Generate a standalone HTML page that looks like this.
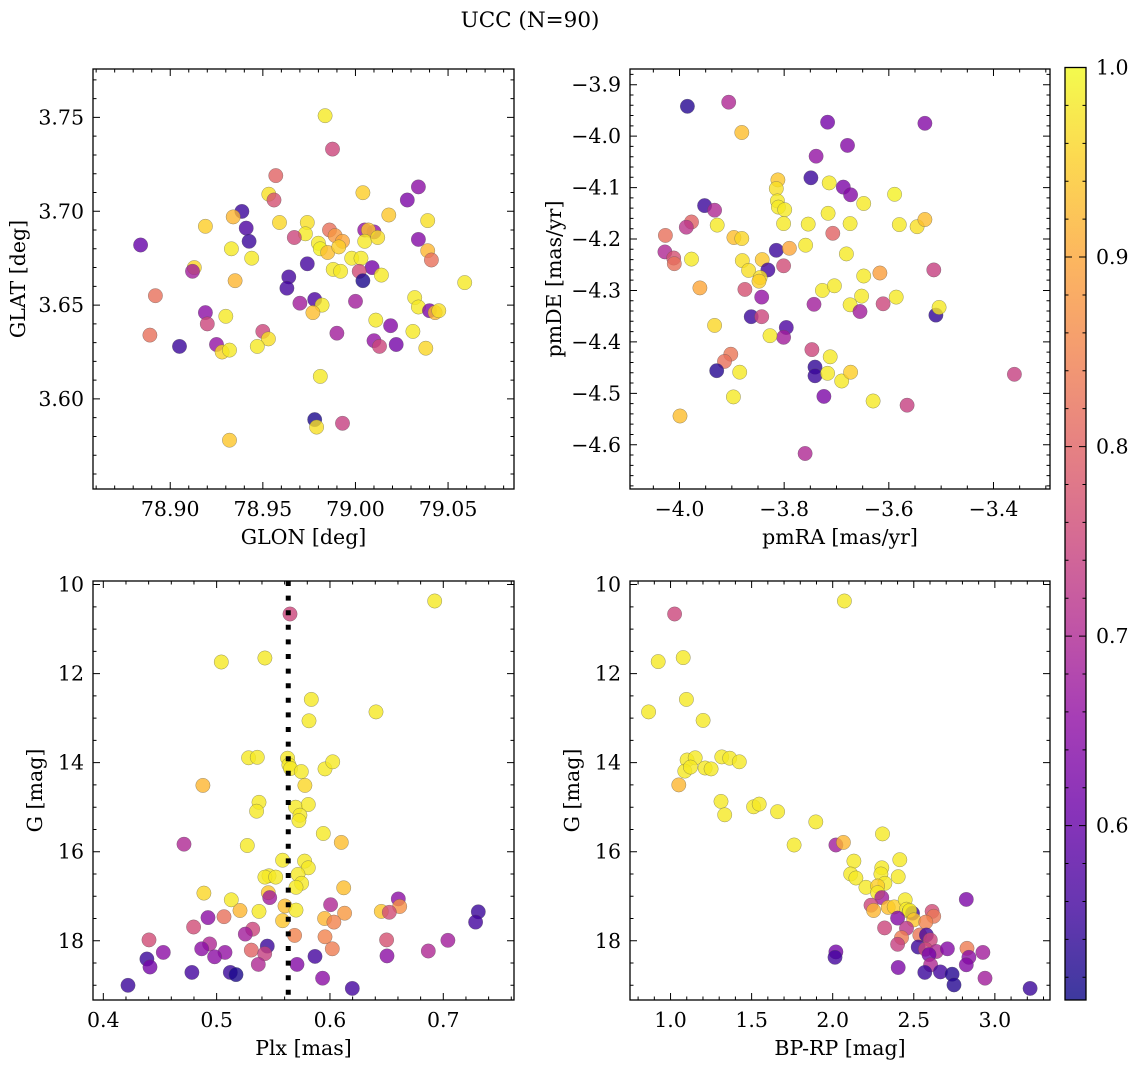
<!DOCTYPE html>
<html><head><meta charset="utf-8"><style>
html,body{margin:0;padding:0;background:#fff;}
svg text{font-family:"DejaVu Serif","Liberation Serif",serif;fill:#000;}
</style></head><body>
<svg id="fig" width="1136" height="1067" viewBox="0 0 1136 1067" xmlns="http://www.w3.org/2000/svg">
<defs>
<linearGradient id="plasma" x1="0" y1="1" x2="0" y2="0">
<stop offset="0" stop-color="#0d0887"/><stop offset="0.1" stop-color="#41049d"/><stop offset="0.2" stop-color="#6a00a8"/><stop offset="0.3" stop-color="#8f0da4"/><stop offset="0.4" stop-color="#b12a90"/><stop offset="0.5" stop-color="#cc4778"/><stop offset="0.6" stop-color="#e16462"/><stop offset="0.7" stop-color="#f2844b"/><stop offset="0.8" stop-color="#fca636"/><stop offset="0.9" stop-color="#fcce25"/><stop offset="1" stop-color="#f0f921"/>
</linearGradient>
</defs>
<text x="530" y="27" font-size="21.5" text-anchor="middle">UCC (N=90)</text>
</svg>
<script>
// ---- Panel 1: GLON vs GLAT ----
const P1_GLON=[78.9836,78.9876,78.957,78.9532,78.956,79.004,79.034,79.028,78.9387,78.934,78.919,78.941,78.959,78.974,78.973,78.967,78.986,78.989,78.993,79.018,79.039,79.034,79.005,79.010,79.007,79.005,79.012,78.9426,78.884,78.933,78.944,78.980,78.981,78.985,78.991,78.998,79.003,79.039,79.041,78.974,78.913,78.912,79.009,79.002,78.988,78.992,79.014,78.964,78.935,78.963,79.004,79.059,78.892,78.970,78.978,78.982,78.977,79.000,79.032,79.034,79.040,79.043,79.045,78.919,78.920,78.930,79.011,79.019,78.990,78.950,78.953,78.947,79.031,78.889,78.905,78.925,78.928,78.932,79.010,79.013,79.022,79.038,78.981,78.978,78.979,78.993,78.932];
const P1_GLAT=[3.7509,3.7331,3.719,3.7091,3.706,3.7099,3.713,3.706,3.6999,3.697,3.692,3.691,3.694,3.694,3.688,3.686,3.690,3.687,3.684,3.698,3.695,3.685,3.690,3.689,3.690,3.684,3.686,3.684,3.682,3.680,3.675,3.683,3.680,3.678,3.681,3.675,3.675,3.679,3.674,3.672,3.670,3.668,3.670,3.668,3.669,3.668,3.666,3.665,3.663,3.659,3.663,3.662,3.655,3.651,3.653,3.650,3.646,3.652,3.654,3.649,3.647,3.646,3.647,3.646,3.640,3.644,3.642,3.639,3.635,3.636,3.632,3.628,3.636,3.634,3.628,3.629,3.625,3.626,3.631,3.628,3.629,3.627,3.612,3.589,3.585,3.587,3.578];
const P1_PROB=[0.98,0.75,0.8,0.97,0.77,0.95,0.65,0.63,0.55,0.92,0.95,0.57,0.96,0.97,0.98,0.75,0.82,0.88,0.9,0.94,0.97,0.64,0.66,0.66,0.94,0.98,0.97,0.55,0.6,0.98,0.98,0.98,0.99,0.93,0.95,0.98,0.98,0.92,0.82,0.56,0.96,0.68,0.62,0.76,0.98,0.98,0.98,0.56,0.92,0.56,0.52,0.98,0.82,0.68,0.57,0.98,0.93,0.68,0.98,0.98,0.63,0.92,0.97,0.65,0.75,0.98,0.98,0.64,0.68,0.75,0.97,0.98,0.98,0.82,0.55,0.66,0.96,0.98,0.66,0.75,0.62,0.96,0.98,0.52,0.97,0.74,0.94];
const P1_XTICKS=[78.90,78.95,79.00,79.05];
const P1_YTICKS=[3.60,3.65,3.70,3.75];

// ---- Panel 2: pmRA vs pmDE ----
const P2_PMRA=[-3.985,-3.906,-3.881,-3.717,-3.531,-3.679,-3.739,-3.749,-3.812,-3.815,-3.813,-3.811,-3.799,-3.801,-3.714,-3.687,-3.673,-3.648,-3.589,-3.716,-3.754,-3.674,-3.580,-3.546,-3.531,-3.707,-3.952,-3.933,-3.977,-3.987,-3.928,-4.027,-3.896,-3.881,-4.028,-4.011,-4.010,-3.977,-3.759,-3.815,-3.790,-3.880,-3.842,-3.868,-3.831,-3.801,-3.681,-3.846,-3.848,-3.961,-3.875,-3.617,-3.648,-3.514,-3.727,-3.704,-3.843,-3.652,-3.586,-3.743,-3.674,-3.655,-3.611,-3.510,-3.504,-3.863,-3.843,-3.933,-3.796,-3.801,-3.827,-3.747,-3.712,-3.902,-3.914,-3.929,-3.885,-3.741,-3.741,-3.717,-3.690,-3.673,-3.360,-3.897,-3.724,-3.630,-3.565,-3.999,-3.760];
const P2_PMDE=[-3.942,-3.934,-3.993,-3.973,-3.975,-4.018,-4.039,-4.081,-4.085,-4.102,-4.126,-4.138,-4.143,-4.170,-4.091,-4.099,-4.114,-4.131,-4.113,-4.150,-4.171,-4.170,-4.172,-4.176,-4.162,-4.189,-4.135,-4.144,-4.167,-4.177,-4.173,-4.193,-4.197,-4.199,-4.225,-4.237,-4.248,-4.239,-4.212,-4.222,-4.218,-4.242,-4.240,-4.261,-4.260,-4.252,-4.229,-4.275,-4.282,-4.295,-4.298,-4.266,-4.272,-4.260,-4.300,-4.291,-4.313,-4.311,-4.313,-4.327,-4.328,-4.341,-4.326,-4.348,-4.333,-4.351,-4.351,-4.368,-4.372,-4.391,-4.388,-4.415,-4.429,-4.424,-4.438,-4.456,-4.459,-4.449,-4.466,-4.461,-4.476,-4.459,-4.463,-4.507,-4.506,-4.515,-4.523,-4.544,-4.617];
const P2_PROB=[0.53,0.7,0.93,0.62,0.64,0.64,0.66,0.55,0.94,0.97,0.98,0.98,0.98,0.98,0.98,0.63,0.64,0.98,0.99,0.98,0.98,0.98,0.98,0.97,0.93,0.8,0.55,0.7,0.8,0.72,0.98,0.82,0.93,0.96,0.7,0.77,0.82,0.98,0.98,0.55,0.9,0.97,0.94,0.97,0.56,0.76,0.98,0.97,0.95,0.9,0.77,0.89,0.98,0.74,0.98,0.98,0.66,0.98,0.98,0.68,0.98,0.68,0.75,0.54,0.98,0.55,0.75,0.96,0.57,0.68,0.98,0.75,0.98,0.83,0.82,0.53,0.98,0.54,0.55,0.98,0.98,0.95,0.74,0.98,0.63,0.98,0.74,0.93,0.7];
const P2_XTICKS=[-4.0,-3.8,-3.6,-3.4];
const P2_YTICKS=[-4.6,-4.5,-4.4,-4.3,-4.2,-4.1,-4.0,-3.9];

// ---- Panel 3: Plx vs G ----
const P3_PLX=[0.6924,0.5647,0.5041,0.5426,0.5835,0.5815,0.6406,0.5282,0.5359,0.5626,0.5638,0.5653,0.5747,0.5956,0.6024,0.4879,0.5779,0.5374,0.5353,0.5697,0.5809,0.5735,0.5726,0.5941,0.5271,0.4712,0.6100,0.5582,0.5776,0.5809,0.5462,0.5426,0.5521,0.5718,0.5750,0.5700,0.6121,0.4888,0.5456,0.5468,0.5129,0.6603,0.6006,0.5206,0.5374,0.5603,0.5700,0.6615,0.6453,0.6524,0.6129,0.7309,0.7285,0.4924,0.5065,0.5582,0.5953,0.6035,0.4797,0.5318,0.5253,0.5688,0.5956,0.4403,0.6500,0.7041,0.4938,0.4868,0.5074,0.4529,0.5306,0.5447,0.5424,0.6021,0.6868,0.4982,0.4385,0.4412,0.5868,0.6503,0.5368,0.5709,0.4782,0.5121,0.5171,0.5935,0.4218,0.6197];
const P3_G=[10.37,10.66,11.74,11.65,12.58,13.06,12.86,13.89,13.88,13.90,14.05,14.13,14.20,14.14,13.98,14.51,14.51,14.89,15.09,15.00,14.94,15.18,15.30,15.59,15.86,15.83,15.79,16.19,16.21,16.36,16.54,16.57,16.57,16.51,16.71,16.80,16.81,16.93,16.92,17.03,17.08,17.06,17.19,17.32,17.34,17.22,17.31,17.23,17.34,17.36,17.38,17.35,17.58,17.48,17.46,17.55,17.50,17.58,17.69,17.74,17.85,17.88,17.91,17.98,17.98,17.99,18.07,18.18,18.26,18.26,18.21,18.12,18.29,18.18,18.23,18.36,18.41,18.59,18.35,18.34,18.53,18.53,18.71,18.71,18.76,18.84,19.00,19.07];
const P3_PROB=[0.98,0.75,0.98,0.98,0.98,0.98,0.98,0.98,0.98,0.98,0.98,0.98,0.98,0.98,0.98,0.92,0.96,0.98,0.98,0.98,0.98,0.98,0.98,0.98,0.98,0.7,0.93,0.98,0.98,0.98,0.98,0.98,0.98,0.98,0.98,0.98,0.93,0.96,0.94,0.68,0.98,0.65,0.7,0.92,0.98,0.93,0.98,0.87,0.94,0.76,0.88,0.55,0.56,0.65,0.82,0.94,0.92,0.85,0.76,0.75,0.68,0.85,0.85,0.76,0.77,0.68,0.7,0.65,0.66,0.65,0.8,0.55,0.74,0.84,0.7,0.65,0.55,0.62,0.56,0.65,0.7,0.64,0.56,0.55,0.52,0.65,0.55,0.56];
const P3_PLX_REF=[0.5632];
const P3_XTICKS=[0.4,0.5,0.6,0.7];
const G_TICKS=[10,12,14,16,18];

// ---- Panel 4: BP-RP vs G ----
const P4_BPRP=[2.072,1.025,0.924,1.078,1.098,0.865,1.201,1.102,1.152,1.088,1.123,1.213,1.250,1.316,1.365,1.424,1.051,1.311,1.334,1.512,1.547,1.660,1.896,1.762,2.020,2.066,2.307,2.131,2.414,2.111,2.143,2.303,2.297,2.404,2.322,2.205,2.277,2.277,2.303,2.824,2.236,2.252,2.342,2.379,2.447,2.455,2.471,2.492,2.475,2.613,2.623,2.500,2.400,2.574,2.455,2.320,2.537,2.424,2.578,2.602,2.400,2.527,2.572,2.639,2.707,2.828,2.594,2.840,2.926,2.020,2.014,2.604,2.404,2.824,2.568,2.664,2.736,2.748,2.939,3.217];
const P4_G=[10.37,10.66,11.73,11.64,12.58,12.86,13.05,13.94,13.89,14.19,14.10,14.12,14.14,13.87,13.90,13.98,14.50,14.87,15.17,14.99,14.93,15.10,15.33,15.85,15.85,15.79,15.60,16.21,16.18,16.50,16.59,16.36,16.50,16.56,16.71,16.80,16.77,16.92,17.03,17.07,17.20,17.32,17.25,17.24,17.08,17.29,17.34,17.38,17.32,17.34,17.45,17.53,17.49,17.58,17.72,17.71,17.87,17.93,17.87,17.98,18.08,18.14,18.19,18.24,18.18,18.17,18.31,18.37,18.26,18.25,18.37,18.54,18.60,18.54,18.71,18.70,18.75,18.99,18.84,19.07];
const P4_PROB=[0.98,0.75,0.98,0.98,0.98,0.98,0.98,0.98,0.98,0.98,0.98,0.98,0.98,0.98,0.98,0.98,0.92,0.98,0.98,0.98,0.98,0.98,0.98,0.98,0.68,0.92,0.98,0.98,0.98,0.98,0.98,0.98,0.98,0.98,0.98,0.98,0.95,0.98,0.68,0.63,0.75,0.92,0.93,0.95,0.98,0.98,0.98,0.55,0.98,0.76,0.83,0.94,0.64,0.85,0.72,0.75,0.83,0.84,0.56,0.75,0.74,0.55,0.75,0.7,0.64,0.84,0.62,0.65,0.68,0.62,0.56,0.7,0.63,0.64,0.55,0.56,0.53,0.53,0.68,0.55];
const P4_XTICKS=[1.0,1.5,2.0,2.5,3.0];

// ---- Colorbar ----
const CB_TICKS=[0.6,0.7,0.8,0.9,1.0];
const CB_MIN=0.508, CB_MAX=1.0;

const NS="http://www.w3.org/2000/svg";
const FS=20.5;
const svg=document.getElementById('fig');
const PLASMA=[[13,8,135],[65,4,157],[106,0,168],[143,13,164],[177,42,144],[204,71,120],[225,100,98],[242,132,75],[252,166,54],[252,206,37],[240,249,33]];
function plasma(p){
  let t=(p-CB_MIN)/(CB_MAX-CB_MIN); t=Math.max(0,Math.min(1,t));
  const f=t*10, i=Math.min(9,Math.floor(f)), u=f-i;
  const a=PLASMA[i], b=PLASMA[i+1];
  return 'rgb('+a.map((v,k)=>Math.round(v+(b[k]-v)*u)).join(',')+')';
}
function mk(tag,attrs,parent){
  const e=document.createElementNS(NS,tag);
  for(const k in attrs)e.setAttribute(k,attrs[k]);
  (parent||svg).appendChild(e);return e;
}
function fmt(v,d){const s=Math.abs(v).toFixed(d);return (v<0?'\u2212':'')+s;}

function panel(o){
  const g=mk('g',{});
  
  
  const sx=v=>o.x0+(v-o.xlim[0])/(o.xlim[1]-o.xlim[0])*(o.x1-o.x0);
  const sy=o.invert? (v=>o.y0+(v-o.ylim[0])/(o.ylim[1]-o.ylim[0])*(o.y1-o.y0))
                   : (v=>o.y1-(v-o.ylim[0])/(o.ylim[1]-o.ylim[0])*(o.y1-o.y0));
  const pts=mk('g',{},g);
  
  
  const n=Math.min(o.xs.length,o.ys.length,o.ps.length);
  for(let i=0;i<n;i++){
    const c=mk('circle',{cx:sx(o.xs[i]).toFixed(1),cy:sy(o.ys[i]).toFixed(1),r:7.2,fill:plasma(o.ps[i]),'fill-opacity':0.8,stroke:'#555','stroke-opacity':0.6,'stroke-width':0.5},pts);
    
    
  }
  if(o.vline){
    for(const v of o.vline){
      const l=mk('line',{x1:sx(v),x2:sx(v),y1:o.y0,y2:o.y1,stroke:'#000','stroke-width':5,'stroke-dasharray':'5 9.6'},g);
      
      
    }
  }
  const fr=mk('rect',{x:o.x0,y:o.y0,width:o.x1-o.x0,height:o.y1-o.y0,fill:'none',stroke:'#000','stroke-width':1.3},g);
  
  
  let tk='';
  const lo=Math.ceil(o.xlim[0]/o.xminor-1e-6), hi=Math.floor(o.xlim[1]/o.xminor+1e-6);
  for(let k=lo;k<=hi;k++){const X=sx(k*o.xminor);tk+=`M${X} ${o.y1}v-3.5M${X} ${o.y0}v3.5`;}
  const ylo=Math.ceil(Math.min(...o.ylim)/o.yminor-1e-6), yhi=Math.floor(Math.max(...o.ylim)/o.yminor+1e-6);
  for(let k=ylo;k<=yhi;k++){const Y=sy(k*o.yminor);tk+=`M${o.x0} ${Y}h3.5M${o.x1} ${Y}h-3.5`;}
  for(const v of o.xticks){const X=sx(v);tk+=`M${X} ${o.y1}v-7M${X} ${o.y0}v7`;}
  for(const v of o.yticks){const Y=sy(v);tk+=`M${o.x0} ${Y}h7M${o.x1} ${Y}h-7`;}
  mk('path',{d:tk,stroke:'#000','stroke-width':1,fill:'none'},g);
  for(const v of o.xticks){
    const t=mk('text',{x:sx(v),y:o.y1+27,'font-size':FS,'text-anchor':'middle'},g);
    t.textContent=fmt(v,o.xdec);
    
    
  }
  for(const v of o.yticks){
    const t=mk('text',{x:o.x0-9,y:sy(v)+7,'font-size':FS,'text-anchor':'end'},g);
    t.textContent=fmt(v,o.ydec);
    
    
  }
  const xl=mk('text',{x:(o.x0+o.x1)/2,y:o.y1+55,'font-size':FS,'text-anchor':'middle'},g);
  xl.textContent=o.xlabel;
  
  
  const yc=(o.y0+o.y1)/2;
  const yl=mk('text',{x:o.ylx,y:yc,'font-size':FS,'text-anchor':'middle',transform:`rotate(-90 ${o.ylx} ${yc})`},g);
  yl.textContent=o.ylabel;
  
  
}

panel({name:'glon-glat-panel',x0:93,x1:514,y0:69,y1:489,xlim:[78.8583,79.0856],ylim:[3.552,3.7758],xs:P1_GLON,ys:P1_GLAT,ps:P1_PROB,xticks:P1_XTICKS,yticks:P1_YTICKS,xminor:0.01,yminor:0.01,xdec:2,ydec:2,xlabel:'GLON [deg]',ylabel:'GLAT [deg]',ylx:25});
panel({name:'pm-panel',x0:630,x1:1050,y0:69,y1:489,xlim:[-4.0946,-3.292],ylim:[-4.686,-3.8695],xs:P2_PMRA,ys:P2_PMDE,ps:P2_PROB,xticks:P2_XTICKS,yticks:P2_YTICKS,xminor:0.05,yminor:0.02,xdec:1,ydec:1,xlabel:'pmRA [mas/yr]',ylabel:'pmDE [mas/yr]',ylx:561});
panel({name:'plx-g-panel',x0:93,x1:514,y0:581,y1:1000,xlim:[0.3909,0.7624],ylim:[9.92,19.33],invert:true,xs:P3_PLX,ys:P3_G,ps:P3_PROB,xticks:P3_XTICKS,yticks:G_TICKS,xminor:0.02,yminor:0.5,xdec:1,ydec:0,xlabel:'Plx [mas]',ylabel:'G [mag]',ylx:42,vline:P3_PLX_REF});
panel({name:'cmd-panel',x0:630,x1:1050,y0:581,y1:1000,xlim:[0.75,3.34],ylim:[9.92,19.33],invert:true,xs:P4_BPRP,ys:P4_G,ps:P4_PROB,xticks:P4_XTICKS,yticks:G_TICKS,xminor:0.1,yminor:0.5,xdec:1,ydec:0,xlabel:'BP-RP [mag]',ylabel:'G [mag]',ylx:579});

(function(){
  const x0=1065,x1=1086,y0=67.5,y1=1000;
  const cy=v=>y1-(v-CB_MIN)/(CB_MAX-CB_MIN)*(y1-y0);
  const g=mk('g',{});
  
  
  mk('rect',{x:x0,y:y0,width:x1-x0,height:y1-y0,fill:'url(#plasma)','fill-opacity':0.8},g);
  mk('rect',{x:x0,y:y0,width:x1-x0,height:y1-y0,fill:'none',stroke:'#000','stroke-width':1.3},g);
  let d='';
  for(let k=Math.ceil(CB_MIN/0.02);k<=Math.floor(CB_MAX/0.02+1e-6);k++){const Y=cy(k*0.02);d+=`M${x1} ${Y}h-3.5M${x0} ${Y}h3.5`;}
  for(const v of CB_TICKS){const Y=cy(v);d+=`M${x1} ${Y}h-7M${x0} ${Y}h7`;}
  mk('path',{d:d,stroke:'#000','stroke-width':1,fill:'none'},g);
  for(const v of CB_TICKS){
    const t=mk('text',{x:x1+10,y:cy(v)+7,'font-size':FS},g);
    t.textContent=v.toFixed(1);
    
    
  }
})();
</script>
</body></html>
